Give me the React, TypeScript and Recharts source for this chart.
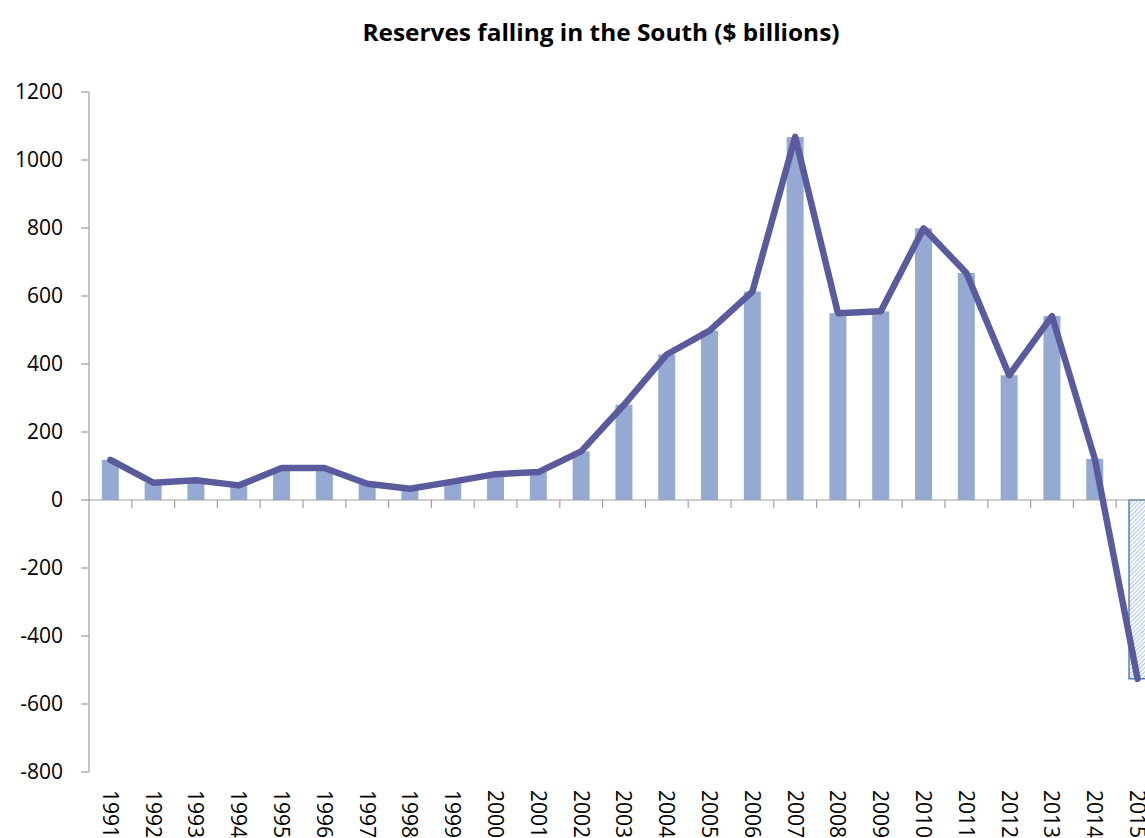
import React from "react";
import { ComposedChart, Bar, Line, XAxis, YAxis, ReferenceLine, Cell } from "recharts";

const years = ["1991","1992","1993","1994","1995","1996","1997","1998","1999","2000","2001","2002","2003","2004","2005","2006","2007","2008","2009","2010","2011","2012","2013","2014","2015"];
const reserves = [118, 51, 58, 43, 94, 94, 48, 33, 54, 76, 82, 143, 280, 428, 498, 613, 1068, 549, 555, 799, 668, 367, 541, 121, -526];
const yTicks = [-800, -600, -400, -200, 0, 200, 400, 600, 800, 1000, 1200];
const title = "Reserves falling in the South ($ billions)";

const data = years.map((y, i) => ({ year: y, value: reserves[i] }));

const FONT = "'Open Sans', 'DejaVu Sans', sans-serif";
const BAR = "#95AAD2";
const LINE = "#5A5B9C";
const AXIS = "#A0A0A0";

const XTick = (props: any) => {
  const { x, y, payload } = props;
  return (
    <text
      x={x}
      y={y + 18}
      dy="0.36em"
      transform={`rotate(90, ${x}, ${y + 18})`}
      textAnchor="start"
      fontFamily={FONT}
      fontSize={21}
      fill="#000"
    >
      {payload.value}
    </text>
  );
};

const ZeroAxis = (props: any) => {
  const { x1, x2, y1 } = props;
  const n = years.length;
  const step = (x2 - x1) / n;
  const ticks = [];
  for (let i = 1; i <= n; i++) {
    const tx = x1 + i * step;
    ticks.push(<line key={i} x1={tx} x2={tx} y1={y1} y2={y1 + 8} stroke={AXIS} strokeWidth={1.2} />);
  }
  return (
    <g>
      <line x1={x1} x2={x2} y1={y1} y2={y1} stroke={AXIS} strokeWidth={1.2} />
      {ticks}
    </g>
  );
};

export default function App() {
  return (
    <div style={{ position: "absolute", left: 0, top: 0, width: 1145, height: 838, overflow: "hidden", background: "#fff" }}>
      <svg width={1145} height={60} style={{ position: "absolute", left: 0, top: 0 }}>
        <text x={601} y={41} textAnchor="middle" fontFamily={FONT} fontWeight="bold" fontSize={24} textLength={477} lengthAdjust="spacingAndGlyphs" fill="#000">
          {title}
        </text>
      </svg>
      <div style={{ position: "absolute", left: 0, top: 0 }}>
        <ComposedChart
          width={1162}
          height={880}
          data={data}
          margin={{ top: 92, right: 3, left: 0, bottom: 0 }}
          barCategoryGap="30%"
        >
          <defs>
            <pattern id="hatch" patternUnits="userSpaceOnUse" width="3" height="3" patternTransform="rotate(45)">
              <rect width="3" height="3" fill="#ffffff" />
              <line x1="0" y1="0" x2="0" y2="3" stroke="#7FA3D6" strokeWidth="1.3" />
            </pattern>
          </defs>
          <XAxis
            dataKey="year"
            interval={0}
            axisLine={false}
            tickLine={false}
            tickSize={0}
            tickMargin={0}
            height={108}
            tick={<XTick />}
          />
          <YAxis
            domain={[-800, 1200]}
            ticks={yTicks}
            interval={0}
            width={89}
            tickSize={8}
            tickMargin={18}
            axisLine={{ stroke: AXIS, strokeWidth: 1.2 }}
            tickLine={{ stroke: AXIS, strokeWidth: 1.2 }}
            tick={{ fontFamily: FONT, fontSize: 21, fill: "#000" }}
            allowDataOverflow
          />
          <ReferenceLine y={0} shape={(p: any) => <ZeroAxis {...p} />} />
          <Bar dataKey="value" fill={BAR} isAnimationActive={false}>
            {data.map((d, i) => (
              <Cell
                key={d.year}
                fill={i === data.length - 1 ? "url(#hatch)" : BAR}
                stroke={i === data.length - 1 ? "#4F81BD" : "none"}
                strokeWidth={i === data.length - 1 ? 1.5 : 0}
              />
            ))}
          </Bar>
          <Line
            type="linear"
            dataKey="value"
            stroke={LINE}
            strokeWidth={6.5}
            strokeLinejoin="round"
            strokeLinecap="round"
            dot={false}
            activeDot={false}
            isAnimationActive={false}
          />
        </ComposedChart>
      </div>
    </div>
  );
}
